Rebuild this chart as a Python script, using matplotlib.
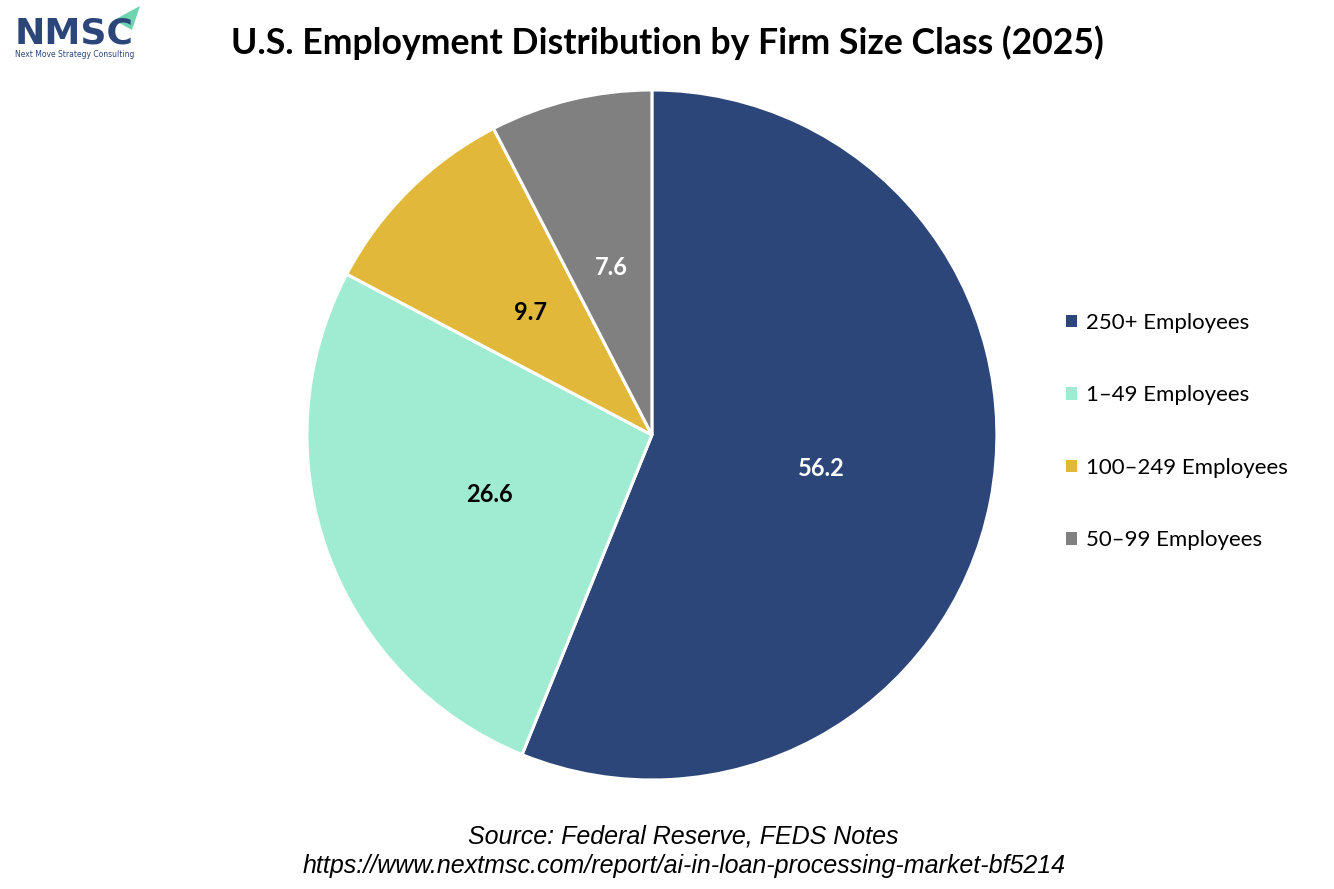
import matplotlib
matplotlib.use("Agg")
import matplotlib.pyplot as plt
from matplotlib.patches import Polygon, Rectangle
import numpy as np

labels = ["250+ Employees", "1–49 Employees", "100–249 Employees", "50–99 Employees"]
values = [56.2, 26.6, 9.7, 7.6]
colors = ["#2C4679", "#A0ECD3", "#E2B83A", "#808080"]
label_colors = ["white", "black", "black", "white"]

title = "U.S. Employment Distribution by Firm Size Class (2025)"
source1 = "Source: Federal Reserve, FEDS Notes"
source2 = "https://www.nextmsc.com/report/ai-in-loan-processing-market-bf5214"

fig = plt.figure(figsize=(13.34, 8.89), dpi=100)
fig.patch.set_facecolor("white")

ax = fig.add_axes([0.2301, 0.1226, 0.5172, 0.7762])
wedges, _ = ax.pie(values, colors=colors, startangle=90, counterclock=False,
                   wedgeprops=dict(edgecolor="white", linewidth=2.2))
total = sum(values)
ang = 90.0
for w, v, lc in zip(wedges, values, label_colors):
    mid = np.deg2rad(ang - v / total * 360 / 2)
    ang -= v / total * 360
    ax.text(0.5 * np.cos(mid), 0.5 * np.sin(mid), f"{v:.1f}", ha="center", va="center",
            fontsize=17, fontweight="bold", color=lc, family="Lato")
ax.set_xlim(-1, 1)
ax.set_ylim(-1, 1)
ax.set_aspect("auto")
ax.axis("off")

handles = [Rectangle((0, 0), 1, 1, facecolor=c, edgecolor="none") for c in colors]
leg = fig.legend(handles, labels, loc="center left", bbox_to_anchor=(0.784, 0.5146),
                 frameon=False, prop={"family": "Lato", "size": 16},
                 handlelength=0.5, handleheight=0.5, handletextpad=0.4, labelspacing=2.36)

fig.text(0.5, 0.952, title, ha="center", va="center", fontsize=25.7, fontweight="bold",
         family="Lato", color="black")
fig.text(0.5125, 0.059, source1, ha="center", va="center", fontsize=18, style="italic",
         family="Liberation Sans", color="black")
fig.text(0.5125, 0.026, source2, ha="center", va="center", fontsize=18, style="italic",
         family="Liberation Sans", color="black")

# logo
fig.text(0.011, 0.962, "NMSC", ha="left", va="center", fontsize=26, fontweight="bold",
         family="DejaVu Sans", color="#2C4679")
fig.text(0.011, 0.939, "Next Move Strategy Consulting", ha="left", va="center", fontsize=5.5,
         family="DejaVu Sans", color="#2C4679")
tri = Polygon([[114 / 1334, 1 - 20 / 889], [140 / 1334, 1 - 6 / 889], [132 / 1334, 1 - 30 / 889]],
              closed=True, facecolor="#6FD3B0", edgecolor="none", transform=fig.transFigure)
fig.patches.append(tri)

fig.savefig("out.png", dpi=100)
